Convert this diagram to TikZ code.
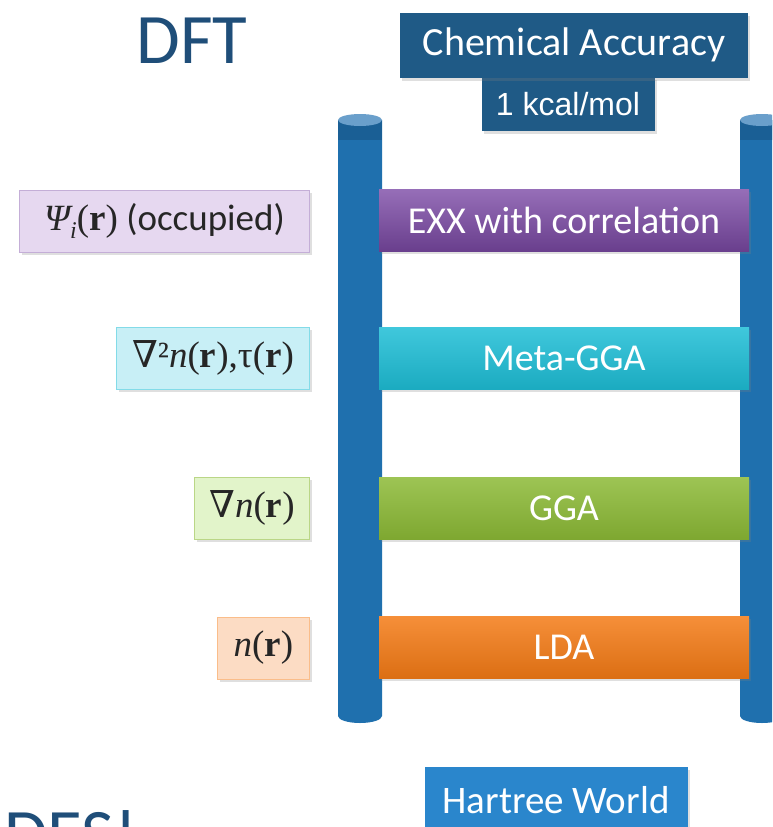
\documentclass[tikz,border=0pt]{standalone}
\usepackage{fontspec}
\setmainfont{Carlito}
\newfontfamily\arialf{Liberation Sans}
\newfontfamily\mfs{Liberation Serif}
\newfontfamily\nab{DejaVu Serif}
\usetikzlibrary{shadows}
\definecolor{dftblue}{HTML}{1F4E79}
\definecolor{chemblue}{HTML}{1F5A86}
\definecolor{railblue}{HTML}{1F70AE}
\definecolor{railtop}{HTML}{6A9FCB}
\definecolor{raildark}{HTML}{1A5F95}
\definecolor{hartblue}{HTML}{2A86CC}
\definecolor{purp}{HTML}{7C4AA6}
\definecolor{cyanb}{HTML}{1EBED6}
\definecolor{greenb}{HTML}{8CBA36}
\definecolor{orangeb}{HTML}{F47B16}
\definecolor{lpurp}{HTML}{E6D8F0}
\definecolor{lcyan}{HTML}{C8EFF6}
\definecolor{lgreen}{HTML}{E2F4CA}
\definecolor{lorange}{HTML}{FCDCC4}
\newcommand\vr{{\mfs\bfseries r}}
\newcommand\vn{{\mfs\itshape n}}
\tikzset{
  shad/.style={drop shadow={opacity=0.25, shadow xshift=2pt, shadow yshift=-3pt}},
  rung/.style={shad, minimum width=370pt, minimum height=62pt, inner sep=0pt, text=white,
    font=\fontsize{38}{40}\selectfont},
  lbl/.style={shad, anchor=east, minimum height=62pt, inner sep=0pt, line width=1pt, text=black!85,
    font=\fontsize{37}{40}\selectfont},
  topbox/.style={shad, fill=chemblue, inner sep=0pt, text=white},
  bigtitle/.style={text=dftblue, font=\fontsize{71}{75}\selectfont, inner sep=0pt}
}
\begin{document}
\begin{tikzpicture}[x=1pt,y=-1pt]
\clip (0,0) rectangle (772,827);
\useasboundingbox (0,0) rectangle (772,827);
\fill[white] (0,0) rectangle (772,827);
% titles
\node[bigtitle, anchor=base] (dft) at (192,63) {DFT};
\node[bigtitle, anchor=base west] (des) at (4,858) {DES!};
% top boxes
\node[topbox, minimum width=173pt, minimum height=54pt, font=\arialf\fontsize{32}{34}\selectfont] (kcal) at (568,104) {1 kcal/mol};
\node[topbox, minimum width=348pt, minimum height=65pt, font=\fontsize{40}{42}\selectfont] (chem) at (574,45) {Chemical Accuracy};
% rails
\foreach \rx/\nm in {338/L, 740/R}{
  \fill[railblue] (\rx,120) -- (\rx,716) arc[x radius=22pt, y radius=7pt, start angle=180, end angle=360] -- ({\rx+44},120) -- cycle;
  \fill[raildark] (\rx,120) rectangle ({\rx+44},140);
  \fill[railtop] ({\rx+22},120) ellipse[x radius=22pt, y radius=6pt];
  \coordinate (rail\nm) at ({\rx+22},420);
}
% rungs
\node[rung, top color=purp!80!white, bottom color=purp!85!black] (exx) at (564,220) {EXX with correlation};
\node[rung, top color=cyanb!85!white, bottom color=cyanb!90!black] (meta) at (564,358) {Meta-GGA};
\node[rung, top color=greenb!85!white, bottom color=greenb!90!black] (gga) at (564,508) {GGA};
\node[rung, top color=orangeb!85!white, bottom color=orangeb!90!black] (lda) at (564,647) {LDA};
% left labels
\node[lbl, fill=lpurp, draw=purp!45, minimum width=290pt] (psi) at (310,221)
  {{\mfs\itshape Ψ}\raisebox{-0.22em}{\mfs\itshape\fontsize{24}{24}\selectfont i}{\mfs(}\vr{\mfs)} (occupied)};
\node[lbl, fill=lcyan, draw=cyanb!55, minimum width=193pt] (lap) at (310,358)
  {{\nab ∇}{\mfs²}\vn{\mfs(}\vr{\mfs),τ(}\vr{\mfs)}};
\node[lbl, fill=lgreen, draw=greenb!60, minimum width=115pt] (grad) at (310,508)
  {{\nab ∇}\vn{\mfs(}\vr{\mfs)}};
\node[lbl, fill=lorange, draw=orangeb!50, minimum width=92pt] (dens) at (310,648)
  {\vn{\mfs(}\vr{\mfs)}};
% bottom box
\node[shad, fill=hartblue, minimum width=263pt, minimum height=66pt, inner sep=0pt, text=white, font=\fontsize{39}{41}\selectfont] (hart) at (556,800) {Hartree World};
\end{tikzpicture}
\end{document}
